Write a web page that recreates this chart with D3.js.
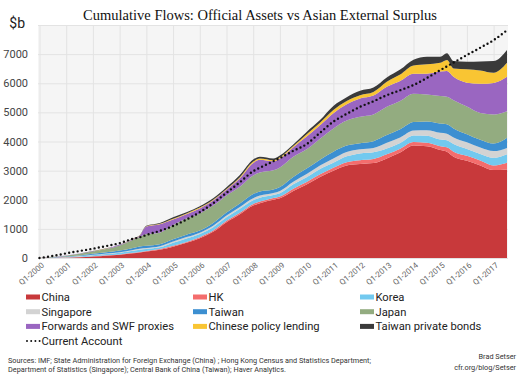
<!DOCTYPE html>
<html>
<head>
<meta charset="utf-8">
<script src="https://cdn.jsdelivr.net/npm/d3@7"></script>
<style>
    body { margin: 0; background: #fff; }
    svg { display: block; font-family: Roboto, "Noto Sans", sans-serif; }
</style>
</head>
<body>
<svg id="chart" width="520" height="374"></svg>
<script>
const quarters = ['2000Q1','2000Q3','2001Q1','2001Q3','2002Q1','2002Q3','2003Q1','2003Q3','2003Q4','2004Q1',
    '2004Q3','2005Q1','2005Q3','2006Q1','2006Q3','2007Q1','2007Q3','2008Q1','2008Q2','2008Q4',
    '2009Q1','2009Q3','2010Q1','2010Q3','2011Q1','2011Q3','2012Q1','2012Q3','2013Q1','2013Q3',
    '2014Q1','2014Q3','2015Q1','2015Q2','2015Q3','2016Q1','2016Q3','2017Q1','2017Q3'];

// $b, cumulative
const china = [0,5,10,25,50,80,110,160,190,220, 280,390,520,680,900,1230,1500,1800,1880,2000,
    2050,2300,2520,2780,3000,3180,3230,3260,3420,3620, 3860,3840,3710,3650,3480,3340,3180,3020,3040];
const hk = [0,3,5,8,10,12,14,18,20,22, 25,28,32,35,40,45,50,55,58,60,
    65,80,90,95,100,110,130,140,140,130, 120,120,130,150,170,170,170,160,230];
const korea = [0,8,14,22,35,45,55,70,75,68, 60,107,120,110,120,125,140,130,130,100,
    110,150,160,180,170,200,230,230,200,200, 230,240,230,240,260,230,220,260,290];
const singapore = [0,4,7,10,15,18,22,28,30,30, 35,40,45,45,50,55,65,70,75,70,
    75,85,110,120,150,150,140,150,200,190, 170,190,230,230,230,230,220,230,220];
const taiwan = [0,8,15,25,35,45,55,70,80,80, 70,75,85,70,90,105,115,140,140,120,
    140,170,190,200,230,220,210,230,260,280, 290,300,320,320,310,280,270,260,350];
const japan = [0,12,30,55,75,105,175,280,330,400, 400,490,550,590,600,590,580,640,650,660,
    670,690,660,720,800,860,910,920,970,970, 970,920,940,950,970,950,920,1000,910];
const forwards = [0,3,5,7,10,15,20,30,40,260, 290,190,150,170,170,190,285,430,440,310,
    310,330,440,460,520,560,630,650,690,690, 690,720,840,880,800,820,1000,1080,1180];
const policyLending = [0,0,1,1,2,3,3,4,5,10, 15,30,25,30,30,30,40,45,45,40,
    40,40,80,90,110,110,110,120,170,220, 280,320,300,380,290,460,460,350,480];
const privateBonds = [0,2,3,5,6,8,10,12,12,20, 25,50,43,50,55,60,75,70,62,60,
    60,55,80,90,140,130,150,150,150,170, 200,260,210,230,250,260,310,400,440];
const currentAccount = [0,70,160,240,320,410,510,660,710,790, 930,1100,1320,1570,1880,2240,2600,2980,3100,3320,
    3430,3680,3910,4300,4680,4950,5190,5380,5590,5760, 5940,6180,6450,6580,6710,6970,7220,7480,7820];

const seriesNames = ['China','HK','Korea','Singapore','Taiwan','Japan',
    'Forwards and SWF proxies','Chinese policy lending','Taiwan private bonds'];
const seriesColors = ['#c8393b','#f46d6d','#72c9ef','#d3d3d3','#3c8fd1','#93ac80','#9a66c1','#f9c533','#3a3a3a'];
const seriesValues = [china, hk, korea, singapore, taiwan, japan, forwards, policyLending, privateBonds];

const xTickLabels = ['Q1-2000','Q1-2001','Q1-2002','Q1-2003','Q1-2004','Q1-2005','Q1-2006','Q1-2007','Q1-2008',
    'Q1-2009','Q1-2010','Q1-2011','Q1-2012','Q1-2013','Q1-2014','Q1-2015','Q1-2016','Q1-2017'];
const yTicks = [0,1000,2000,3000,4000,5000,6000,7000];
const yGrid = [0,1000,2000,3000,4000,5000,6000,7000,8000];

// "2003Q4" -> quarters since Q1-2000
function qIndex(s) {
    return (+s.slice(0,4) - 2000) * 4 + (+s.slice(5) - 1);
}
function labelIndex(s) {
    return (+s.slice(3) - 2000) * 4;
}

const rows = quarters.map((q, i) => {
    let r = {q: qIndex(q), ca: currentAccount[i]};
    seriesNames.forEach((n, k) => r[n] = seriesValues[k][i]);
    return r;
});
const stacked = d3.stack().keys(seriesNames)(rows);

const svg = d3.select('#chart');
const plot = {left: 38, right: 508, top: 25, bottom: 258};

const x = d3.scaleLinear().domain([0, 70]).range([39.5, 507]);
const y = d3.scaleLinear().domain([0, 8000]).range([plot.bottom, plot.top]);

// background
svg.append('rect')
    .attr('x', plot.left).attr('y', plot.top)
    .attr('width', plot.right - plot.left).attr('height', plot.bottom - plot.top)
    .attr('fill', '#f5f5f5');

// grid
svg.append('g')
    .attr('transform', 'translate(0,' + plot.bottom + ')')
    .call(d3.axisBottom(x).tickValues(xTickLabels.map(labelIndex))
        .tickSize(-(plot.bottom - plot.top)).tickFormat(''))
    .call(g => g.select('.domain').remove())
    .call(g => g.selectAll('line').attr('stroke', '#e3e3e3'));
svg.append('g')
    .attr('transform', 'translate(' + plot.left + ',0)')
    .call(d3.axisLeft(y).tickValues(yGrid)
        .tickSize(-(plot.right - plot.left)).tickFormat(''))
    .call(g => g.select('.domain').remove())
    .call(g => g.selectAll('line').attr('stroke', '#e3e3e3'));

// areas
const area = d3.area()
    .x(d => x(d.data.q))
    .y0(d => y(d[0]))
    .y1(d => y(d[1]))
    .curve(d3.curveMonotoneX);

svg.append('g').selectAll('path')
    .data(stacked)
    .enter()
    .append('path')
    .attr('fill', (d, i) => seriesColors[i])
    .attr('d', area);

// current account dotted line
const line = d3.line()
    .x(d => x(d.q))
    .y(d => y(d.ca))
    .curve(d3.curveMonotoneX);
svg.append('path')
    .datum(rows)
    .attr('fill', 'none')
    .attr('stroke', '#111')
    .attr('stroke-width', 2.4)
    .attr('stroke-linecap', 'round')
    .attr('stroke-dasharray', '0,4.3')
    .attr('d', line);

// y axis labels
svg.append('g')
    .attr('transform', 'translate(' + plot.left + ',0)')
    .call(d3.axisLeft(y).tickValues(yTicks).tickSize(0).tickPadding(10).tickFormat(d3.format('d')))
    .call(g => g.select('.domain').remove())
    .call(g => g.selectAll('text').attr('font-size', 11).attr('fill', '#444')
        .attr('font-family', 'Roboto, sans-serif'));

svg.append('text')
    .attr('x', 25).attr('y', 28)
    .attr('text-anchor', 'end')
    .attr('font-size', 14)
    .attr('fill', '#222')
    .text('$b');

// x axis labels
svg.append('g')
    .attr('transform', 'translate(0,' + plot.bottom + ')')
    .call(d3.axisBottom(x).tickValues(xTickLabels.map(labelIndex)).tickSize(0)
        .tickFormat((d, i) => xTickLabels[i]))
    .call(g => g.select('.domain').remove())
    .call(g => g.selectAll('text')
        .attr('font-size', 8)
        .attr('fill', '#666')
        .attr('font-family', 'Roboto, sans-serif')
        .attr('text-anchor', 'end')
        .attr('x', 0).attr('y', 0).attr('dy', '0.35em')
        .attr('transform', 'translate(3,6) rotate(-40)'));

// title
svg.append('text')
    .attr('x', 260).attr('y', 20)
    .attr('text-anchor', 'middle')
    .attr('font-family', '"Liberation Serif", "DejaVu Serif", serif')
    .attr('font-size', 14.5)
    .attr('fill', '#111')
    .text('Cumulative Flows: Official Assets vs Asian External Surplus');

// legend
const legCols = [26, 193, 360];
const legRows = [297, 311.7, 326.4, 341];
const legend = svg.append('g');
seriesNames.forEach((n, i) => {
    let cx = legCols[i % 3], cy = legRows[Math.floor(i / 3)];
    legend.append('rect')
        .attr('x', cx).attr('y', cy - 2.5)
        .attr('width', 14).attr('height', 5)
        .attr('fill', seriesColors[i]);
    legend.append('text')
        .attr('x', cx + 15.5).attr('y', cy)
        .attr('dy', '0.35em')
        .attr('font-size', 11.2)
        .attr('fill', '#222')
        .text(n);
});
legend.append('line')
    .attr('x1', 27).attr('x2', 40)
    .attr('y1', legRows[3]).attr('y2', legRows[3])
    .attr('stroke', '#111').attr('stroke-width', 2)
    .attr('stroke-linecap', 'round')
    .attr('stroke-dasharray', '0,4.2');
legend.append('text')
    .attr('x', 41.5).attr('y', legRows[3])
    .attr('dy', '0.35em')
    .attr('font-size', 11.2)
    .attr('fill', '#222')
    .text('Current Account');

// footer
const foot = svg.append('g').attr('font-size', 7.3).attr('fill', '#333');
foot.append('text').attr('x', 8).attr('y', 363)
    .text('Sources:  IMF; State Administration for Foreign Exchange (China) ; Hong Kong Census and Statistics Department;');
foot.append('text').attr('x', 8).attr('y', 371.5)
    .text('Department of Statistics (Singapore); Central Bank of China (Taiwan); Haver Analytics.');
foot.append('text').attr('x', 516).attr('y', 359).attr('text-anchor', 'end').text('Brad Setser');
foot.append('text').attr('x', 516).attr('y', 370).attr('text-anchor', 'end').text('cfr.org/blog/Setser');
</script>
</body>
</html>
